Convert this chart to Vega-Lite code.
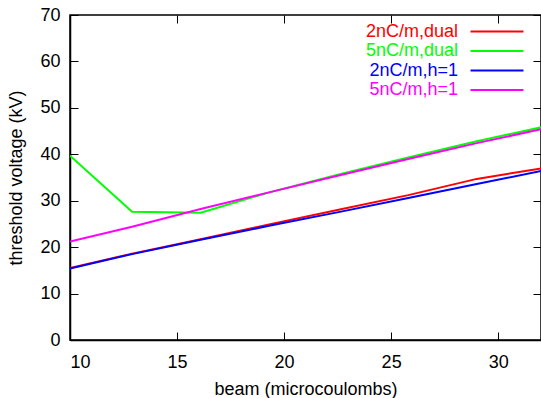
{
  "$schema": "https://vega.github.io/schema/vega-lite/v6.json",
  "width": 471,
  "height": 325,
  "autosize": "none",
  "padding": {"left": 70, "top": 15, "right": 0, "bottom": 58},
  "background": "white",
  "config": {
    "font": "Liberation Sans",
    "view": {"stroke": "black", "strokeWidth": 1.5},
    "axis": {
      "grid": false,
      "domainColor": "black",
      "domainWidth": 1.5,
      "tickColor": "black",
      "tickWidth": 1,
      "tickSize": -8,
      "labelFontSize": 18,
      "labelColor": "black",
      "titleFontSize": 18,
      "titleFontWeight": "normal",
      "titleColor": "black"
    }
  },
  "data": {
    "values": [
      {"beam": 10, "kv": 15.5, "series": "2nC/m,dual"},
      {"beam": 12.9, "kv": 18.6, "series": "2nC/m,dual"},
      {"beam": 16.1, "kv": 21.7, "series": "2nC/m,dual"},
      {"beam": 19.3, "kv": 24.9, "series": "2nC/m,dual"},
      {"beam": 22.6, "kv": 28.1, "series": "2nC/m,dual"},
      {"beam": 25.8, "kv": 31.2, "series": "2nC/m,dual"},
      {"beam": 29, "kv": 34.7, "series": "2nC/m,dual"},
      {"beam": 32.2, "kv": 37.1, "series": "2nC/m,dual"},
      {"beam": 10, "kv": 39.7, "series": "5nC/m,dual"},
      {"beam": 12.9, "kv": 27.6, "series": "5nC/m,dual"},
      {"beam": 16.1, "kv": 27.4, "series": "5nC/m,dual"},
      {"beam": 19.3, "kv": 31.8, "series": "5nC/m,dual"},
      {"beam": 22.6, "kv": 35.7, "series": "5nC/m,dual"},
      {"beam": 25.8, "kv": 39.3, "series": "5nC/m,dual"},
      {"beam": 29, "kv": 42.8, "series": "5nC/m,dual"},
      {"beam": 32.2, "kv": 46.0, "series": "5nC/m,dual"},
      {"beam": 10, "kv": 15.4, "series": "2nC/m,h=1"},
      {"beam": 12.9, "kv": 18.5, "series": "2nC/m,h=1"},
      {"beam": 16.1, "kv": 21.6, "series": "2nC/m,h=1"},
      {"beam": 19.3, "kv": 24.6, "series": "2nC/m,h=1"},
      {"beam": 22.6, "kv": 27.6, "series": "2nC/m,h=1"},
      {"beam": 25.8, "kv": 30.6, "series": "2nC/m,h=1"},
      {"beam": 29, "kv": 33.6, "series": "2nC/m,h=1"},
      {"beam": 32.2, "kv": 36.6, "series": "2nC/m,h=1"},
      {"beam": 10, "kv": 21.2, "series": "5nC/m,h=1"},
      {"beam": 12.9, "kv": 24.4, "series": "5nC/m,h=1"},
      {"beam": 16.1, "kv": 28.2, "series": "5nC/m,h=1"},
      {"beam": 19.3, "kv": 31.8, "series": "5nC/m,h=1"},
      {"beam": 22.6, "kv": 35.5, "series": "5nC/m,h=1"},
      {"beam": 25.8, "kv": 39.0, "series": "5nC/m,h=1"},
      {"beam": 29, "kv": 42.4, "series": "5nC/m,h=1"},
      {"beam": 32.2, "kv": 45.6, "series": "5nC/m,h=1"}
    ]
  },
  "resolve": {"axis": {"x": "independent", "y": "independent"}},
  "layer": [
    {
      "mark": {"type": "line", "strokeWidth": 2, "clip": true},
      "encoding": {
        "x": {
          "field": "beam", "type": "quantitative",
          "scale": {"domain": [10, 32], "nice": false, "zero": false},
          "axis": {"values": [10, 15, 20, 25, 30], "title": "beam (microcoulombs)", "labelPadding": 21, "titlePadding": 9}
        },
        "y": {
          "field": "kv", "type": "quantitative",
          "scale": {"domain": [0, 70], "nice": false},
          "axis": {"values": [0, 10, 20, 30, 40, 50, 60, 70], "title": "threshold voltage (kV)", "labelPadding": 18, "titlePadding": 14}
        },
        "color": {
          "field": "series", "type": "nominal",
          "scale": {
            "domain": ["2nC/m,dual", "5nC/m,dual", "2nC/m,h=1", "5nC/m,h=1"],
            "range": ["#ff0000", "#00ff00", "#0000ff", "#ff00ff"]
          },
          "legend": {
            "orient": "none",
            "legendX": 418,
            "legendY": 7.5,
            "title": null,
            "symbolType": "M-5,0H5",
            "symbolSize": 112,
            "symbolStrokeWidth": 2,
            "labelFontSize": 18,
            "labelAlign": "right",
            "labelOffset": -48,
            "rowPadding": 1.5,
            "labelLimit": 300,
            "padding": 0,
            "encode": {
              "labels": {"update": {"fill": {"scale": "color", "field": "value"}}}
            }
          }
        }
      }
    },
    {
      "mark": {"type": "point", "opacity": 0},
      "encoding": {
        "x": {
          "field": "beam", "type": "quantitative",
          "axis": {"orient": "top", "values": [10, 15, 20, 25, 30], "labels": false, "title": null, "domain": false}
        },
        "y": {
          "field": "kv", "type": "quantitative",
          "axis": {"orient": "right", "values": [0, 10, 20, 30, 40, 50, 60, 70], "labels": false, "title": null, "domain": false}
        }
      }
    }
  ]
}
